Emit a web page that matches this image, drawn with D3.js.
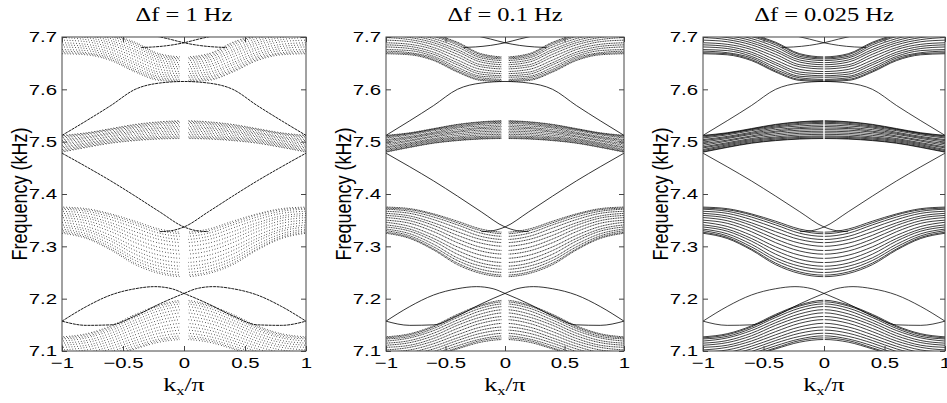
<!DOCTYPE html>
<html>
<head>
<meta charset="utf-8">
<script src="https://cdn.jsdelivr.net/npm/d3@7"></script>
<style>
  body { margin: 0; background: #fff; }
  svg { display: block; }
</style>
</head>
<body>
<div id="chart"></div>
<script>
// figure size
var svgWidth = 947;
var svgHeight = 403;

// panel titles and axis ticks
var titles = ["Δf = 1 Hz", "Δf = 0.1 Hz", "Δf = 0.025 Hz"];
var xTicks = [-1, -0.5, 0, 0.5, 1];
var yTicks = [7.1, 7.2, 7.3, 7.4, 7.5, 7.6, 7.7];

// |kx|/pi sample points; the bulk bands are symmetric in kx, so values are read for kx >= 0
var kAbs = [0, 0.2, 0.4, 0.6, 0.8, 1];

// bulk band 1 (7.1 - 7.2 kHz), one row per ribbon mode, kHz at kAbs
var bandA = [
  [7.122, 7.117, 7.104, 7.090, 7.080, 7.077],
  [7.125, 7.120, 7.106, 7.092, 7.082, 7.079],
  [7.129, 7.123, 7.110, 7.095, 7.085, 7.081],
  [7.134, 7.128, 7.115, 7.099, 7.088, 7.085],
  [7.140, 7.134, 7.120, 7.104, 7.093, 7.089],
  [7.146, 7.140, 7.125, 7.109, 7.097, 7.093],
  [7.153, 7.146, 7.131, 7.114, 7.102, 7.098],
  [7.160, 7.153, 7.137, 7.119, 7.107, 7.102],
  [7.166, 7.159, 7.143, 7.124, 7.111, 7.107],
  [7.173, 7.165, 7.149, 7.129, 7.116, 7.111],
  [7.179, 7.171, 7.154, 7.134, 7.120, 7.115],
  [7.185, 7.177, 7.159, 7.139, 7.125, 7.119],
  [7.190, 7.182, 7.164, 7.143, 7.128, 7.123],
  [7.194, 7.186, 7.168, 7.146, 7.131, 7.125],
  [7.197, 7.188, 7.170, 7.148, 7.133, 7.127]
];

// bulk band 2 (7.25 - 7.37 kHz)
var bandB = [
  [7.242, 7.248, 7.265, 7.293, 7.315, 7.325],
  [7.245, 7.251, 7.268, 7.295, 7.317, 7.327],
  [7.250, 7.256, 7.273, 7.299, 7.320, 7.330],
  [7.256, 7.262, 7.278, 7.304, 7.324, 7.333],
  [7.262, 7.268, 7.285, 7.310, 7.329, 7.337],
  [7.269, 7.275, 7.292, 7.315, 7.333, 7.341],
  [7.277, 7.283, 7.299, 7.321, 7.338, 7.346],
  [7.285, 7.291, 7.307, 7.328, 7.344, 7.350],
  [7.292, 7.298, 7.314, 7.334, 7.349, 7.355],
  [7.300, 7.306, 7.321, 7.340, 7.354, 7.359],
  [7.307, 7.313, 7.328, 7.345, 7.358, 7.363],
  [7.313, 7.319, 7.335, 7.351, 7.363, 7.367],
  [7.319, 7.325, 7.341, 7.356, 7.367, 7.371],
  [7.324, 7.330, 7.345, 7.360, 7.370, 7.373],
  [7.327, 7.333, 7.348, 7.362, 7.372, 7.375]
];

// bulk band 3 (7.48 - 7.54 kHz)
var bandC = [
  [7.506, 7.505, 7.502, 7.497, 7.489, 7.480],
  [7.507, 7.506, 7.503, 7.498, 7.490, 7.481],
  [7.509, 7.508, 7.505, 7.500, 7.492, 7.483],
  [7.511, 7.510, 7.507, 7.502, 7.494, 7.485],
  [7.514, 7.513, 7.509, 7.504, 7.496, 7.488],
  [7.517, 7.516, 7.512, 7.506, 7.498, 7.490],
  [7.520, 7.519, 7.515, 7.509, 7.501, 7.493],
  [7.523, 7.522, 7.518, 7.511, 7.503, 7.496],
  [7.526, 7.525, 7.520, 7.514, 7.506, 7.499],
  [7.529, 7.527, 7.523, 7.516, 7.508, 7.502],
  [7.532, 7.530, 7.526, 7.518, 7.510, 7.504],
  [7.535, 7.533, 7.528, 7.521, 7.513, 7.507],
  [7.537, 7.535, 7.530, 7.523, 7.515, 7.509],
  [7.539, 7.537, 7.532, 7.524, 7.516, 7.511],
  [7.540, 7.538, 7.533, 7.525, 7.517, 7.512]
];

// bulk band 4 (7.615 kHz and up)
var bandD = [
  [7.615, 7.617, 7.633, 7.655, 7.666, 7.668],
  [7.617, 7.619, 7.635, 7.657, 7.668, 7.670],
  [7.619, 7.622, 7.638, 7.660, 7.670, 7.673],
  [7.623, 7.625, 7.642, 7.663, 7.674, 7.676],
  [7.626, 7.629, 7.647, 7.667, 7.678, 7.681],
  [7.630, 7.633, 7.651, 7.671, 7.682, 7.685],
  [7.634, 7.638, 7.656, 7.676, 7.686, 7.689],
  [7.639, 7.643, 7.662, 7.680, 7.691, 7.694],
  [7.643, 7.647, 7.667, 7.685, 7.695, 7.699],
  [7.647, 7.652, 7.672, 7.689, 7.699, 7.703],
  [7.651, 7.656, 7.676, 7.693, 7.703, 7.708],
  [7.655, 7.660, 7.681, 7.697, 7.707, 7.712],
  [7.658, 7.663, 7.685, 7.701, 7.711, 7.715],
  [7.660, 7.666, 7.688, 7.703, 7.713, 7.718],
  [7.662, 7.668, 7.690, 7.705, 7.715, 7.720]
];

// symmetric edge state between bands 3 and 4, kHz at kAbs
var edgeUpper = [7.615, 7.612, 7.600, 7.569, 7.540, 7.512];

// crossing edge states (kx/pi, kHz), one pair per gap
var edgeMidK1 = [-1, -0.8, -0.6, -0.4, -0.2, 0, 0.1, 0.2];
var edgeMidF1 = [7.478, 7.452, 7.425, 7.396, 7.366, 7.337, 7.330, 7.328];
var edgeMidK2 = [-0.2, -0.1, 0, 0.2, 0.4, 0.6, 0.8, 1];
var edgeMidF2 = [7.328, 7.330, 7.337, 7.366, 7.396, 7.425, 7.452, 7.478];

var edgeLowK1 = [-1, -0.8, -0.6, -0.4, -0.24, -0.1, 0, 0.2, 0.4, 0.6, 0.8, 1];
var edgeLowF1 = [7.157, 7.185, 7.207, 7.219, 7.223, 7.219, 7.210, 7.190, 7.167, 7.150, 7.149, 7.157];
var edgeLowK2 = [-1, -0.8, -0.6, -0.4, -0.2, 0, 0.1, 0.24, 0.4, 0.6, 0.8, 1];
var edgeLowF2 = [7.157, 7.149, 7.150, 7.167, 7.190, 7.210, 7.219, 7.223, 7.219, 7.207, 7.185, 7.157];

var edgeTopK1 = [-0.4, -0.25, -0.12, 0, 0.12, 0.25, 0.35];
var edgeTopF1 = [7.712, 7.703, 7.696, 7.689, 7.684, 7.681, 7.680];
var edgeTopK2 = [-0.35, -0.25, -0.12, 0, 0.12, 0.25, 0.4];
var edgeTopF2 = [7.680, 7.681, 7.684, 7.689, 7.696, 7.703, 7.712];

// layout of the three panels
var margin = { top: 37, bottom: 52 };
var panels = [
  { left: 62,  right: 306, dash: "0.7 2.1", edgeDash: "3 0.7", gap: 0.035, width: 0.9 },
  { left: 386, right: 624, dash: "1.1 0.6", edgeDash: null,    gap: 0.03,  width: 0.8 },
  { left: 703, right: 945, dash: null,      edgeDash: null,    gap: 0.006, width: 0.75 }
];
var stretchX = 1.36;   // the source figure is widened horizontally, text included

var svg = d3.select("#chart")
  .append("svg")
  .attr("width", svgWidth)
  .attr("height", svgHeight);

var height = svgHeight - margin.top - margin.bottom;

function symmetric(vals) {
  var pts = [];
  for (var i = kAbs.length - 1; i > 0; i--) pts.push([-kAbs[i], vals[i]]);
  for (var j = 0; j < kAbs.length; j++) pts.push([kAbs[j], vals[j]]);
  return pts;
}
function pairs(ks, fs) {
  return ks.map(function(k, i) { return [k, fs[i]]; });
}

function stretchText(sel) {
  sel.each(function() {
    var t = d3.select(this);
    var x = +t.attr("x") || 0, y = +t.attr("y") || 0;
    t.attr("x", 0).attr("y", 0)
      .attr("transform", "translate(" + x + "," + y + ") scale(" + stretchX + ",1)");
  });
}

var bulkLines = [].concat(bandA, bandB, bandC, bandD).map(symmetric);
var edgeLines = [
  symmetric(edgeUpper),
  pairs(edgeMidK1, edgeMidF1), pairs(edgeMidK2, edgeMidF2),
  pairs(edgeLowK1, edgeLowF1), pairs(edgeLowK2, edgeLowF2),
  pairs(edgeTopK1, edgeTopF1), pairs(edgeTopK2, edgeTopF2)
];

panels.forEach(function(p, idx) {
  var width = p.right - p.left;
  var g = svg.append("g").attr("transform", "translate(" + p.left + "," + margin.top + ")");

  var x = d3.scaleLinear().domain([-1, 1]).range([0, width]);
  var y = d3.scaleLinear().domain([7.1, 7.7]).range([height, 0]);

  var clipId = "clip" + idx;
  g.append("clipPath").attr("id", clipId)
    .append("rect").attr("width", width).attr("height", height);

  var line = d3.line()
    .x(function(d) { return x(d[0]); })
    .y(function(d) { return y(d[1]); })
    .curve(d3.curveMonotoneX);

  var plot = g.append("g").attr("clip-path", "url(#" + clipId + ")");

  plot.append("g").selectAll("path")
    .data(bulkLines)
    .enter()
    .append("path")
    .attr("d", line)
    .attr("fill", "none")
    .attr("stroke", "#000")
    .attr("stroke-width", p.width)
    .attr("stroke-dasharray", p.dash)
    .attr("stroke-dashoffset", function(d, i) { return (i % 15) * 0.9; });

  // frequency sweep leaves a gap in the bulk modes at kx = 0
  plot.append("rect")
    .attr("x", x(-p.gap))
    .attr("width", x(p.gap) - x(-p.gap))
    .attr("y", 0)
    .attr("height", height)
    .attr("fill", "#fff");

  plot.append("g").selectAll("path")
    .data(edgeLines)
    .enter()
    .append("path")
    .attr("d", line)
    .attr("fill", "none")
    .attr("stroke", "#000")
    .attr("stroke-width", p.width)
    .attr("stroke-dasharray", p.edgeDash);

  // axes with inward ticks on all four sides
  var bottomAxis = d3.axisBottom(x).tickValues(xTicks).tickSizeInner(-5).tickSizeOuter(0).tickPadding(6)
    .tickFormat(d3.format("~g"));
  var topAxis = d3.axisTop(x).tickValues(xTicks).tickSizeInner(-5).tickSizeOuter(0).tickFormat("");
  var leftAxis = d3.axisLeft(y).tickValues(yTicks).tickSizeInner(-5).tickSizeOuter(0).tickPadding(5)
    .tickFormat(d3.format(".1f"));
  var rightAxis = d3.axisRight(y).tickValues(yTicks).tickSizeInner(-5).tickSizeOuter(0).tickFormat("");

  var axes = [
    g.append("g").attr("transform", "translate(0," + height + ")").call(bottomAxis),
    g.append("g").call(topAxis),
    g.append("g").call(leftAxis),
    g.append("g").attr("transform", "translate(" + width + ",0)").call(rightAxis)
  ];
  axes.forEach(function(a) {
    a.select(".domain").remove();
    a.selectAll("line").attr("stroke", "#444");
    a.selectAll("text")
      .attr("font-family", "'Liberation Sans', Arial, sans-serif")
      .attr("font-size", 15)
      .attr("fill", "#000");
  });
  stretchText(axes[0].selectAll("text"));
  stretchText(axes[2].selectAll("text"));

  g.append("rect")
    .attr("width", width)
    .attr("height", height)
    .attr("fill", "none")
    .attr("stroke", "#444")
    .attr("stroke-width", 1);

  // title
  g.append("text")
    .attr("x", width / 2)
    .attr("y", -16)
    .attr("text-anchor", "middle")
    .attr("font-family", "'Liberation Serif', 'Times New Roman', serif")
    .attr("font-size", 18)
    .text(titles[idx])
    .call(stretchText);

  // y label
  g.append("text")
    .attr("transform", "translate(-35," + (height / 2) + ") scale(1.2,1) rotate(-90)")
    .attr("text-anchor", "middle")
    .attr("font-family", "'Liberation Sans', Arial, sans-serif")
    .attr("font-size", 18)
    .text("Frequency (kHz)");

  // x label k_x / pi
  var xl = g.append("text")
    .attr("transform", "translate(" + (width / 2) + "," + (height + 40) + ") scale(" + stretchX + ",1)")
    .attr("text-anchor", "middle")
    .attr("font-family", "'Liberation Serif', 'Times New Roman', serif")
    .attr("font-size", 19);
  xl.append("tspan").text("k");
  xl.append("tspan").attr("font-size", 12).attr("dy", 4).text("x");
  xl.append("tspan").attr("dy", -4).text("/π");
});
</script>
</body>
</html>
